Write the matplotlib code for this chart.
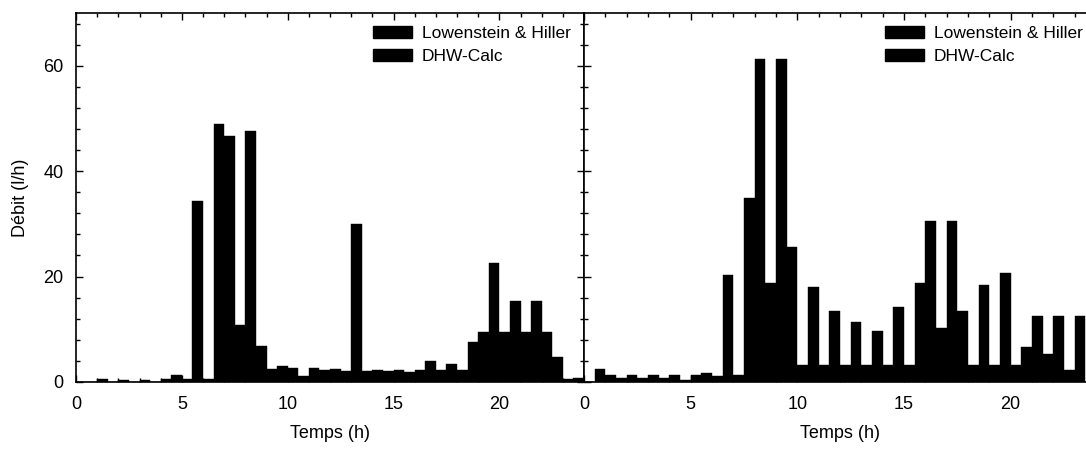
import matplotlib
matplotlib.use("Agg")
import matplotlib.pyplot as plt
import numpy as np
from matplotlib.patches import Patch
from matplotlib.ticker import MultipleLocator

plt.rcParams["font.family"] = ["Liberation Sans", "DejaVu Sans"]

HOURS = np.arange(24)
SERIES_NAMES = ["Lowenstein & Hiller", "DHW-Calc"]

# left panel, hourly flow (l/h)
LEFT_LH = [0, 0.5, 0.4, 0.4, 0.5, 0.5, 0.5, 46.7, 47.7, 2.5, 2.6, 2.6,
           2.5, 29.9, 2.3, 2.3, 2.3, 2.3, 2.3, 9.5, 9.5, 9.5, 9.5, 0.6]
LEFT_DHW = [0, 0, 0, 0, 1.3, 34.4, 49.0, 10.8, 6.9, 3.0, 1.1, 2.3,
            2.1, 2.0, 2.1, 1.9, 4.0, 3.4, 7.5, 22.5, 15.3, 15.3, 4.7, 0.8]

# right panel, hourly flow (l/h)
RIGHT_LH = [0, 1.3, 1.3, 1.3, 1.3, 1.3, 1.2, 1.3, 61.2, 61.2, 3.15, 3.15,
            3.15, 3.15, 3.15, 3.15, 30.6, 30.6, 3.15, 3.15, 3.15, 12.5, 12.5, 12.5]
RIGHT_DHW = [2.4, 0.8, 0.7, 0.7, 0.4, 1.8, 20.3, 35.0, 18.7, 25.7, 18.1, 13.4,
             11.3, 9.6, 14.3, 18.7, 10.3, 13.4, 18.4, 20.7, 6.6, 5.4, 2.2, 0]

W, H = 1086, 450


def style_axis(ax, show_ylabels):
    ax.set_xlim(0, 24)
    ax.set_ylim(0, 70)
    ax.xaxis.set_major_locator(MultipleLocator(5))
    ax.xaxis.set_minor_locator(MultipleLocator(1))
    ax.yaxis.set_major_locator(MultipleLocator(20))
    ax.yaxis.set_minor_locator(MultipleLocator(4))
    ax.tick_params(which="both", direction="in", top=True, right=True,
                   labelsize=13, width=1)
    ax.tick_params(axis="x", pad=10)
    ax.tick_params(axis="y", pad=9)
    ax.tick_params(which="major", length=5)
    ax.tick_params(which="minor", length=3)
    if not show_ylabels:
        ax.tick_params(axis="y", labelleft=False)
    for spine in ax.spines.values():
        spine.set_linewidth(1.2)
    ax.set_xlabel("Temps (h)", fontsize=13, labelpad=9)


def draw_panel(ax, lh, dhw):
    ax.bar(HOURS + 0.25, lh, width=0.5, color="black", edgecolor="black", linewidth=0.3)
    ax.bar(HOURS + 0.75, dhw, width=0.5, color="black", edgecolor="black", linewidth=0.3)
    handles = [Patch(facecolor="black", edgecolor="black") for _ in SERIES_NAMES]
    ax.legend(handles, SERIES_NAMES, loc="upper right", frameon=False, fontsize=12.5,
              handlelength=2.2, handletextpad=0.6, labelspacing=0.45,
              borderaxespad=0.35)


fig = plt.figure(figsize=(W / 100, H / 100), dpi=100)
bottom = 1 - 382 / H
height = 369 / H
ax_left = fig.add_axes([76 / W, bottom, 508 / W, height])
ax_right = fig.add_axes([584 / W, bottom, 512 / W, height])

draw_panel(ax_left, LEFT_LH, LEFT_DHW)
draw_panel(ax_right, RIGHT_LH, RIGHT_DHW)
style_axis(ax_left, True)
style_axis(ax_right, False)
ax_left.set_ylabel("Débit (l/h)", fontsize=13, labelpad=10)

fig.savefig("out.png", dpi=100)
plt.close(fig)
